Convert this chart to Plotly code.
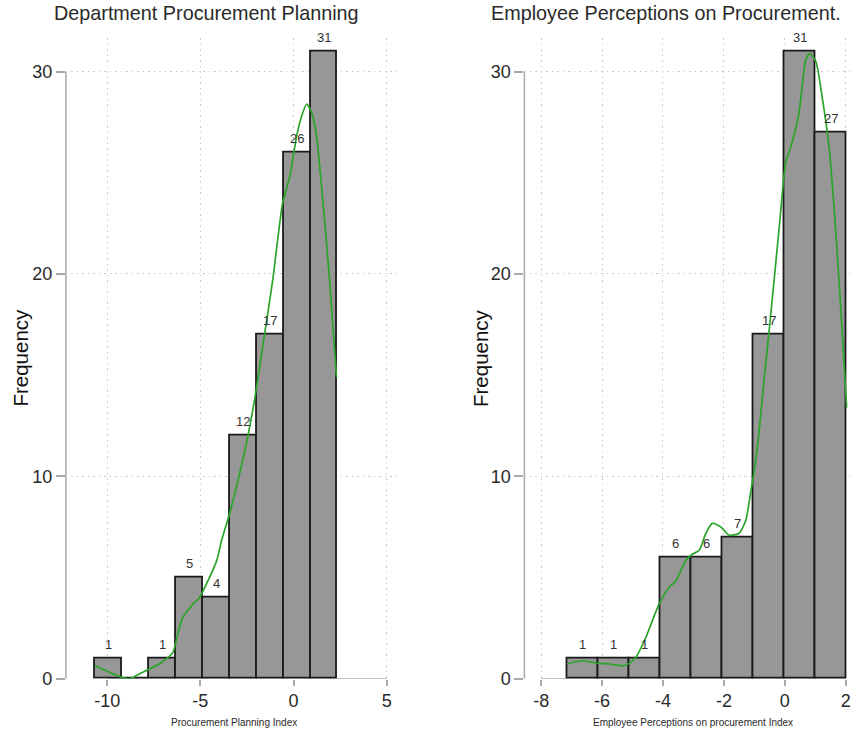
import plotly.graph_objects as go

# ---------------- data ----------------
# Left panel: Procurement Planning Index
left_counts = [1, 0, 1, 5, 4, 12, 17, 26, 31]
left_bin_start = -10.65
left_bin_width = 1.444
left_xticks = [-10, -5, 0, 5]
left_kde_x = [-10.65, -9.86, -9.23, -8.80, -8.25, -7.71, -7.18, -6.48, -6.21, -5.95,
              -5.46, -5.04, -4.66, -4.12, -3.86, -3.43, -2.89, -2.46, -2.09, -1.66,
              -1.12, -0.59, -0.21, 0.16, 0.43, 0.70, 0.96, 1.23, 1.55, 1.93, 2.30]
left_kde_y = [0.65, 0.31, 0.07, 0.0, 0.25, 0.5, 0.74, 1.29, 2.23, 3.02,
              3.62, 4.02, 4.71, 5.85, 6.84, 8.18, 10.16, 11.95, 13.8, 16.4,
              19.7, 23.5, 24.8, 26.8, 27.8, 28.4, 28.0, 26.8, 23.8, 19.7, 14.9]

# Right panel: Employee Perceptions on procurement Index
right_counts = [1, 1, 1, 6, 6, 7, 17, 31, 27]
right_bin_start = -7.15
right_bin_width = 1.02
right_xticks = [-8, -6, -4, -2, 0, 2]
right_kde_x = [-7.15, -6.65, -6.32, -6.09, -5.76, -5.33, -5.11, -4.89, -4.56, -4.12,
               -3.79, -3.57, -3.25, -3.04, -2.81, -2.59, -2.38, -2.10, -1.83, -1.50,
               -1.28, -1.11, -1.00, -0.84, -0.68, -0.51, -0.19, 0.03, 0.24, 0.47,
               0.69, 0.82, 1.02, 1.22, 1.45, 1.67, 1.88, 2.03]
right_kde_y = [0.73, 0.89, 0.81, 0.76, 0.73, 0.64, 0.76, 1.06, 2.05, 3.72,
               4.53, 4.86, 5.85, 6.15, 6.35, 7.19, 7.68, 7.50, 7.09, 7.19,
               7.83, 9.32, 10.3, 12.3, 14.8, 17.25, 22.2, 25.5, 26.5, 28.0,
               30.6, 30.9, 30.5, 28.8, 26.3, 22.2, 17.25, 13.4]

yticks = [0, 10, 20, 30]

titles = ["Department Procurement Planning", "Employee Perceptions on Procurement."]
xtitles = ["Procurement Planning Index", "Employee Perceptions on procurement Index"]
ytitle = "Frequency"

# ---------------- styles ----------------
W, H = 851, 731
FONT = "Liberation Sans, Arial, sans-serif"
BAR_FILL = "#979797"
BAR_LINE = "#1a1a1a"
KDE_COLOR = "#2aa52a"
AXIS_COLOR = "#a8a8a8"
GRID_COLOR = "#c8c8c8"
GRID_DASH = "1.5px,4px"
TEXT = "#2a2a2a"


def fy(px):
    """pixel row (from top) -> paper fraction (calibrated to the render)"""
    return 1 - (px - 1.7) / 718.4


fig = go.Figure()

panels = [
    dict(counts=left_counts, start=left_bin_start, width=left_bin_width,
         kx=left_kde_x, ky=left_kde_y, xt=left_xticks, xa="x", ya="y"),
    dict(counts=right_counts, start=right_bin_start, width=right_bin_width,
         kx=right_kde_x, ky=right_kde_y, xt=right_xticks, xa="x2", ya="y2"),
]

annotations = []
shapes = []
for p in panels:
    centers = [p["start"] + p["width"] * (i + 0.5) for i in range(len(p["counts"]))]
    fig.add_trace(go.Bar(
        x=centers, y=p["counts"], width=p["width"],
        marker=dict(color=BAR_FILL, line=dict(color=BAR_LINE, width=1.8)),
        xaxis=p["xa"], yaxis=p["ya"], showlegend=False, hoverinfo="skip"))
    fig.add_trace(go.Scatter(
        x=p["kx"], y=p["ky"], mode="lines",
        line=dict(color=KDE_COLOR, width=1.7, shape="spline", smoothing=0.6),
        xaxis=p["xa"], yaxis=p["ya"], showlegend=False, hoverinfo="skip"))
    for c, n in zip(centers, p["counts"]):
        if n > 0:
            annotations.append(dict(
                x=c, y=n, xref=p["xa"], yref=p["ya"], text=str(n), showarrow=False,
                yanchor="middle", yshift=14, font=dict(family=FONT, size=13, color="#333")))
    # axis lines spanning the tick range (Stata style)
    shapes.append(dict(type="line", xref=p["xa"], yref=p["ya"],
                       x0=p["xt"][0], x1=p["xt"][-1], y0=0, y1=0,
                       line=dict(color=AXIS_COLOR, width=1.5), layer="below"))
    shapes.append(dict(type="line", xref=p["xa"] + " domain", yref=p["ya"],
                       x0=0, x1=0, y0=yticks[0], y1=yticks[-1],
                       line=dict(color=AXIS_COLOR, width=1.5), layer="below"))

# titles and axis titles
title_pos = [(207, 15), (667, 15)]
xtitle_pos = [(234, 722), (694, 722)]
ytitle_pos = [(21, 358), (481, 358)]
for i in range(2):
    annotations.append(dict(x=title_pos[i][0] / W, y=fy(title_pos[i][1]),
                            xref="paper", yref="paper", text=titles[i], showarrow=False,
                            xanchor="center", yanchor="middle",
                            font=dict(family=FONT, size=19.8, color=TEXT)))
    annotations.append(dict(x=xtitle_pos[i][0] / W, y=fy(xtitle_pos[i][1]),
                            xref="paper", yref="paper", text=xtitles[i], showarrow=False,
                            xanchor="center", yanchor="middle",
                            font=dict(family=FONT, size=10, color=TEXT)))
    annotations.append(dict(x=ytitle_pos[i][0] / W, y=fy(ytitle_pos[i][1]),
                            xref="paper", yref="paper", text=ytitle, showarrow=False,
                            textangle=-90, xanchor="center", yanchor="middle",
                            font=dict(family=FONT, size=20.5, color="#111")))

ydom = [fy(678), fy(40)]
common_x = dict(showline=False, zeroline=False, showgrid=True, gridcolor=GRID_COLOR,
                griddash=GRID_DASH, gridwidth=1, ticks="outside", ticklen=6,
                tickcolor=AXIS_COLOR, tickwidth=1.5, ticklabeloverflow="allow",
                tickfont=dict(family=FONT, size=18, color=TEXT))
common_y = dict(showline=False, zeroline=False, showgrid=True, gridcolor=GRID_COLOR,
                griddash=GRID_DASH, gridwidth=1, ticks="outside", ticklen=9,
                tickcolor=AXIS_COLOR, tickwidth=1.5, range=[0, 31.64],
                tickvals=yticks, ticktext=[str(v) for v in yticks], domain=ydom,
                tickfont=dict(family=FONT, size=18, color=TEXT))

fig.update_layout(
    width=W, height=H,
    margin=dict(l=0, r=0, t=0, b=0),
    paper_bgcolor="white", plot_bgcolor="white",
    bargap=0,
    xaxis=dict(domain=[66 / W, 400 / W], range=[-12.21, 5.68], tickvals=left_xticks,
               ticktext=[str(v) for v in left_xticks], anchor="y", **common_x),
    yaxis=dict(anchor="x", **common_y),
    xaxis2=dict(domain=[525 / W, 1.0], range=[-8.55, 2.14], tickvals=right_xticks,
                ticktext=[str(v) for v in right_xticks], anchor="y2", **common_x),
    yaxis2=dict(anchor="x2", **common_y),
    annotations=annotations,
    shapes=shapes,
)

fig.write_html("out.html")
